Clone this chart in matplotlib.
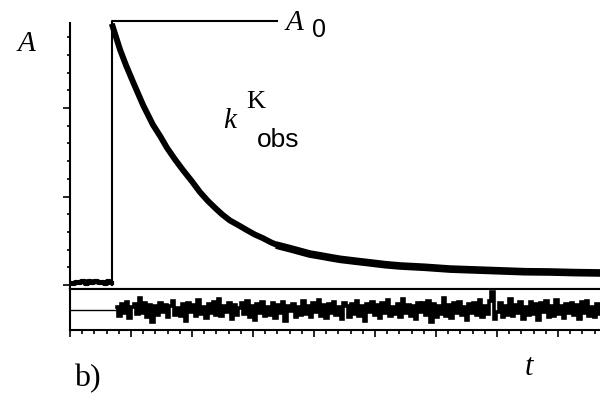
import numpy as np
import matplotlib.pyplot as plt
from matplotlib.ticker import MultipleLocator

# absorbance trace (time in tick units, A in tick units)
base_a = [0.02, 0.01, 0.03, 0.02, 0.05, 0.01, 0.04, 0.02, 0.05, 0.02, 0.03, 0.01, 0.04, 0.02]
decay_t = [0.70, 0.82, 0.92, 1.03, 1.20, 1.36, 1.48, 1.59, 1.72, 1.85, 2.00, 2.13, 2.26, 2.38,
           2.49, 2.62, 2.75, 2.90, 3.03, 3.16, 3.30, 3.44, 3.61, 3.77, 3.93, 4.10, 4.26, 4.43,
           4.67, 4.92, 5.16, 5.41, 5.82, 6.23, 6.64, 7.05, 7.46, 7.87, 8.28, 8.69]
decay_a = [2.92, 2.66, 2.48, 2.30, 2.03, 1.81, 1.68, 1.55, 1.42, 1.30, 1.17, 1.05, 0.95, 0.87,
           0.80, 0.73, 0.68, 0.62, 0.57, 0.53, 0.48, 0.44, 0.41, 0.38, 0.35, 0.33, 0.31, 0.29,
           0.27, 0.25, 0.23, 0.215, 0.20, 0.18, 0.17, 0.16, 0.15, 0.147, 0.14, 0.136]
t_trigger = 0.69
a0 = 2.98
a0_end = 3.39

# residuals of the fit
resid = [0.12, -0.30, 0.25, -0.18, 0.35, -0.40, 0.10, 0.28, -0.22, 0.55,
         -0.15, 0.30, -0.35, 0.20, -0.62, 0.18, -0.25, 0.32, -0.10, 0.22,
         -0.38, 0.15, 0.40, -0.28, 0.08, -0.33, 0.26, -0.55, 0.30, -0.12,
         0.20, -0.30, 0.45, -0.20, 0.12, -0.40, 0.28, -0.15, 0.35, -0.25,
         0.50, -0.32, 0.18, -0.10, 0.30, -0.45, 0.22, -0.28, 0.05, 0.33,
         -0.20, 0.40, -0.35, 0.15, -0.50, 0.25, -0.18, 0.38, -0.30, 0.10,
         -0.25, 0.30, -0.40, 0.22, -0.15, 0.35, -0.55, 0.18, -0.05, 0.28,
         -0.35, 0.12, -0.28, 0.40, -0.22, 0.15, -0.38, 0.30, -0.12, 0.48,
         -0.30, 0.20, -0.42, 0.25, -0.18, 0.36, -0.26, 0.10, -0.48, 0.32,
         0.15, -0.35, 0.28, -0.20, 0.42, -0.30, 0.18, -0.58, 0.25, -0.12,
         0.35, -0.25, 0.20, -0.40, 0.30, -0.15, 0.45, -0.32, 0.12, -0.22,
         0.28, -0.38, 0.50, -0.18, 0.22, -0.30, 0.15, -0.45, 0.34, -0.10,
         0.30, -0.28, 0.40, -0.60, 0.25, -0.35, 0.18, -0.22, 0.55, -0.30,
         0.20, -0.42, 0.30, -0.15, 0.38, -0.28, 0.12, -0.50, 0.26, -0.18,
         0.32, -0.25, 0.45, -0.35, 0.15, -0.20, 0.40, 0.85, -0.48, -0.12,
         0.30, -0.38, 0.18, -0.25, 0.52, -0.30, 0.20, -0.15, 0.35, -0.45,
         0.10, -0.28, 0.38, -0.20, 0.25, -0.52, 0.30, -0.12, 0.42, -0.35,
         0.18, -0.30, 0.48, -0.22, 0.15, -0.40, 0.28, -0.18, 0.33, -0.26,
         0.22, -0.45, 0.35, -0.15, 0.40, -0.30, 0.12, -0.38, 0.26, -0.20]
resid_start = 0.77

W, H = 600, 396
fig = plt.figure(figsize=(6, 3.96), dpi=100)
x_max = 530 / 61

# main panel
ax = fig.add_axes([70 / W, 1 - 289 / H, 530 / W, 266 / H])
base_t = np.linspace(0, t_trigger, len(base_a))
ax.plot(base_t, base_a, color='black', lw=3.0, drawstyle='steps-mid')
ax.plot(decay_t, decay_a, color='black', lw=4.3)
# the noisy tail is drawn a bit heavier, as in the scan
ax.plot(decay_t[21:], decay_a[21:], color='black', lw=5.5)
ax.plot([t_trigger, t_trigger, a0_end], [0, a0, a0], color='black', lw=1.5, clip_on=False)
ax.set_xlim(0, x_max)
ax.set_ylim(-4 / 88.5, 262 / 88.5)
for s in ['top', 'right']:
    ax.spines[s].set_visible(False)
ax.spines['left'].set_linewidth(1.5)
ax.spines['bottom'].set_linewidth(1.5)
ax.yaxis.set_major_locator(MultipleLocator(1))
ax.yaxis.set_minor_locator(MultipleLocator(0.2))
ax.tick_params(axis='y', which='major', length=5, width=1.2, direction='out', labelleft=False)
ax.tick_params(axis='y', which='minor', length=2.5, width=1.2, direction='out')
ax.set_xticks([])

# residual panel
ar = fig.add_axes([70 / W, 1 - 330 / H, 530 / W, 41 / H])
rt = np.linspace(resid_start, x_max, len(resid))
ar.plot([0, resid_start], [0, 0], color='black', lw=1)
ar.plot(rt, resid, color='black', lw=2.6, drawstyle='steps-mid',
        solid_joinstyle='miter')
ar.set_xlim(0, x_max)
ar.set_ylim(-1, 1)
ar.spines['right'].set_visible(False)
for s in ['left', 'top', 'bottom']:
    ar.spines[s].set_linewidth(1.5)
ar.set_yticks([])
ar.xaxis.set_major_locator(MultipleLocator(1))
ar.xaxis.set_minor_locator(MultipleLocator(0.2))
ar.tick_params(axis='x', which='major', length=5, width=1.2, direction='out', labelbottom=False)
ar.tick_params(axis='x', which='minor', length=3, width=1.2, direction='out')


def label(x, y, s, **kw):
    fig.text(x / W, 1 - y / H, s, va='baseline', ha='left', **kw)


label(18, 51, 'A', family='Liberation Serif', style='italic', fontsize=21)
label(286, 30, 'A', family='Liberation Serif', style='italic', fontsize=21)
label(312, 37, '0', family='Liberation Sans', fontsize=18)
label(223, 128, 'k', family='Liberation Serif', style='italic', fontsize=21)
label(246, 108, 'K', family='Liberation Serif', fontsize=19)
label(257, 147, 'obs', family='Liberation Sans', fontsize=19)
label(74, 386, 'b)', family='Liberation Serif', fontsize=23)
label(525, 375, 't', family='Liberation Serif', style='italic', fontsize=22)

fig.savefig('out.png', dpi=100)
